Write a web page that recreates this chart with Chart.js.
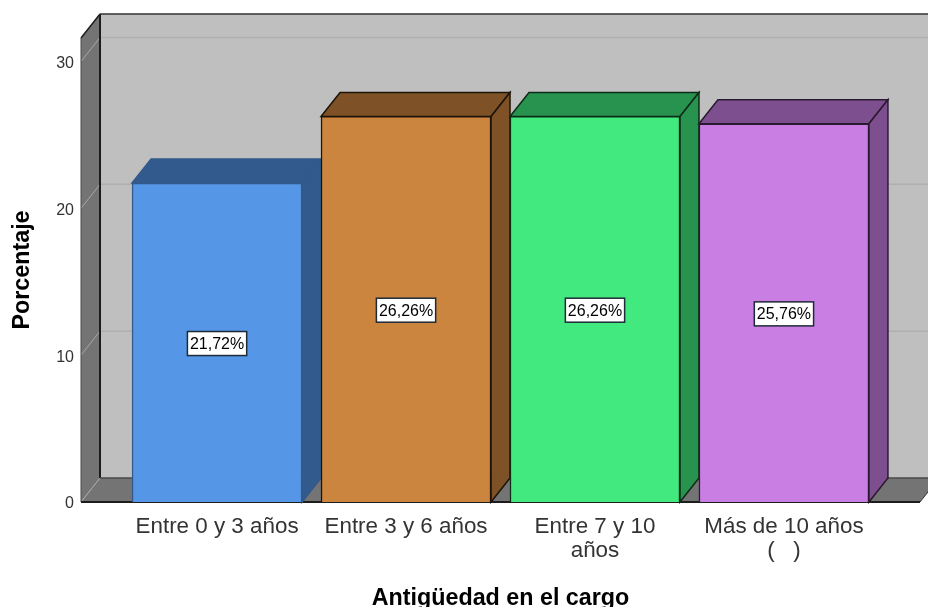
<!DOCTYPE html>
<html>
<head>
<meta charset="utf-8">
<style>
  body { margin: 0; background: #fff; }
  canvas { display: block; }
</style>
<script src="https://cdn.jsdelivr.net/npm/chart.js@4"></script>
</head>
<body>
<canvas id="chart" width="928" height="607"></canvas>
<script>
const categories = [
    ['Entre 0 y 3 años'],
    ['Entre 3 y 6 años'],
    ['Entre 7 y 10', 'años'],
    ['Más de 10 años', '(   )']
];
const percentages = [21.72, 26.26, 26.26, 25.76];
const yTicks = [0, 10, 20, 30];
const frontColors = ['#5596e6', '#cb853f', '#41e97f', '#c97ee3'];
const shadeColors = ['#335a8c', '#7e5226', '#28924f', '#7d4f8e'];
const edgeColors = ['#33598c', '#1c1408', '#0c2c18', '#2a1a30'];

// how far the box is pushed back, in pixels
const DEPTH_X = 19;
const DEPTH_Y = 24;

function poly(ctx, points, fill, stroke, width) {
    ctx.beginPath();
    points.forEach((p, i) => i ? ctx.lineTo(p[0], p[1]) : ctx.moveTo(p[0], p[1]));
    ctx.closePath();
    if (fill) {
        ctx.fillStyle = fill;
        ctx.fill();
    }
    if (stroke) {
        ctx.strokeStyle = stroke;
        ctx.lineWidth = width || 1;
        ctx.stroke();
    }
}

function line(ctx, x1, y1, x2, y2, color, width) {
    ctx.beginPath();
    ctx.moveTo(x1, y1);
    ctx.lineTo(x2, y2);
    ctx.strokeStyle = color;
    ctx.lineWidth = width;
    ctx.stroke();
}

// back wall, left wall, floor and the grid lines on them
const wallsPlugin = {
    id: 'walls',
    beforeDatasetsDraw(chart) {
        const {ctx, chartArea: a, scales: {y}} = chart;
        const dx = DEPTH_X, dy = DEPTH_Y;
        ctx.save();
        poly(ctx, [[a.left + dx, a.top - dy], [a.right + dx, a.top - dy], [a.right + dx, a.bottom - dy], [a.left + dx, a.bottom - dy]], '#bfbfbf');
        poly(ctx, [[a.left, a.top], [a.left + dx, a.top - dy], [a.left + dx, a.bottom - dy], [a.left, a.bottom]], '#747474');
        poly(ctx, [[a.left, a.bottom], [a.left + dx, a.bottom - dy], [a.right + dx, a.bottom - dy], [a.right, a.bottom]], '#747474');

        yTicks.forEach(v => {
            const py = y.getPixelForValue(v);
            line(ctx, a.left, py, a.left + dx, py - dy, '#a8a8a8', 1);
            if (v > 0) line(ctx, a.left + dx, py - dy, a.right + dx, py - dy, '#afafaf', 1.5);
        });

        line(ctx, a.left + dx, a.top - dy, a.left + dx, a.bottom - dy, '#1c1c1c', 2);
        line(ctx, a.left + dx, a.top - dy, a.right + dx, a.top - dy, '#333333', 1.5);
        line(ctx, a.left + dx, a.bottom - dy, a.right + dx, a.bottom - dy, '#4a4a4a', 1.5);
        line(ctx, a.left, a.top, a.left + dx, a.top - dy, '#1c1c1c', 1.5);
        line(ctx, a.left, a.top, a.left, a.bottom, '#4a4a4a', 1);
        line(ctx, a.left, a.bottom, a.right, a.bottom, '#1c1c1c', 2);
        line(ctx, a.right, a.bottom, a.right + dx, a.bottom - dy, '#333333', 1);

        // top and side of each bar
        chart.getDatasetMeta(0).data.forEach((bar, i) => {
            const half = bar.width / 2;
            const l = bar.x - half, r = bar.x + half, t = bar.y, b = bar.base;
            poly(ctx, [[l, t], [l + dx, t - dy], [r + dx, t - dy], [r, t]], shadeColors[i], edgeColors[i], 1.5);
            poly(ctx, [[r, t], [r + dx, t - dy], [r + dx, b - dy], [r, b]], shadeColors[i], edgeColors[i], 1.5);
        });
        ctx.restore();
    }
};

// white value boxes in the middle of the bars
const valueBoxPlugin = {
    id: 'valueBox',
    afterDatasetsDraw(chart) {
        const {ctx} = chart;
        ctx.save();
        ctx.font = '16px "Liberation Sans"';
        ctx.textAlign = 'center';
        ctx.textBaseline = 'middle';
        chart.getDatasetMeta(0).data.forEach((bar, i) => {
            const text = percentages[i].toFixed(2).replace('.', ',') + '%';
            const cy = (bar.y + bar.base) / 2 + 1;
            const w = ctx.measureText(text).width + 5;
            ctx.fillStyle = '#fff';
            ctx.fillRect(bar.x - w / 2, cy - 12, w, 24);
            ctx.strokeStyle = '#1f2a36';
            ctx.lineWidth = 1.5;
            ctx.strokeRect(bar.x - w / 2, cy - 12, w, 24);
            ctx.fillStyle = '#000';
            ctx.fillText(text, bar.x, cy + 1);
        });
        ctx.restore();
    }
};

new Chart(document.getElementById('chart'), {
    type: 'bar',
    data: {
        datasets: [{
            data: percentages.map((v, i) => ({x: i, y: v})),
            backgroundColor: frontColors,
            borderColor: edgeColors,
            borderWidth: 1.5,
            barThickness: 170
        }]
    },
    plugins: [wallsPlugin, valueBoxPlugin],
    options: {
        responsive: false,
        animation: false,
        layout: {padding: {top: 38, right: 8, left: 0, bottom: 0}},
        plugins: {legend: {display: false}, tooltip: {enabled: false}},
        scales: {
            x: {
                type: 'linear',
                offset: false,
                min: -0.72,
                max: 3.72,
                grid: {display: false, tickLength: 0},
                border: {display: false},
                afterBuildTicks(axis) {
                    axis.ticks = categories.map((c, i) => ({value: i}));
                },
                afterFit(axis) {
                    axis.height = 105;
                },
                ticks: {
                    autoSkip: false,
                    maxRotation: 0,
                    padding: 13,
                    color: '#333333',
                    font: {family: '"Liberation Sans"', size: 22.4, lineHeight: 1.08},
                    callback: (value) => categories[value]
                },
                title: {
                    display: true,
                    text: 'Antigüedad en el cargo',
                    color: '#000',
                    font: {family: '"Liberation Sans"', size: 23.3, weight: 'bold', lineHeight: 0.75},
                    padding: {top: 0, bottom: 0}
                }
            },
            y: {
                min: 0,
                max: 31.6,
                grid: {display: false, tickLength: 0},
                border: {display: false},
                afterBuildTicks(axis) {
                    axis.ticks = yTicks.map(v => ({value: v}));
                },
                afterFit(axis) {
                    axis.width = 81;
                },
                ticks: {
                    padding: 7,
                    labelOffset: 2,
                    color: '#333333',
                    font: {family: '"Liberation Sans"', size: 16}
                },
                title: {
                    display: true,
                    text: 'Porcentaje',
                    color: '#000',
                    font: {family: '"Liberation Sans"', size: 23.3, weight: 'bold', lineHeight: 0.75},
                    padding: {top: 14, bottom: 0}
                }
            }
        }
    }
});
</script>
</body>
</html>
